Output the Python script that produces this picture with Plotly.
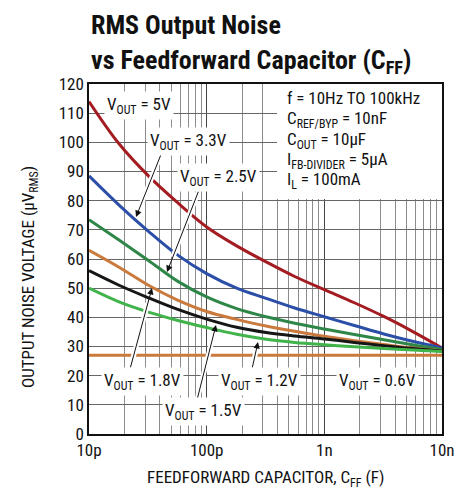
import plotly.graph_objects as go

# Feedforward capacitor values (pF) at which each curve is sampled
cff_pf = [10, 18, 32, 56, 100, 180, 320, 560, 1000, 1800, 3200, 5600, 10000]

# RMS output noise (µV RMS) per output voltage
noise_5v0 = [114, 99.5, 88.5, 79.5, 71, 64.5, 59, 54, 49.5, 45, 40.3, 35.2, 29.5]
noise_3v3 = [88.5, 78.5, 69.5, 61.5, 55, 50, 46.5, 43.2, 40.2, 37.2, 34.3, 31.8, 29.5]
noise_2v5 = [73.5, 66.5, 59.5, 52.5, 47, 43, 40.2, 38, 36, 34.1, 32.3, 30.6, 29]
noise_1v8 = [63, 57.2, 51, 46, 42, 39.3, 37, 35.2, 33.5, 32, 30.7, 29.5, 28.5]
noise_1v5 = [56, 51, 46.7, 42.8, 39.4, 36.6, 34.8, 33.6, 32.6, 31.4, 30.3, 29.3, 28.5]
noise_1v2 = [50, 45.3, 41.8, 39, 36.5, 34.2, 32.5, 31.4, 30.6, 29.9, 29.3, 28.8, 28.3]
noise_0v6 = [27] * len(cff_pf)

y_ticks = list(range(0, 121, 10))
x_tick_labels = ["10p", "100p", "1n", "10n"]

FONT = "Liberation Sans Narrow, Roboto Condensed, DejaVu Sans Condensed, Roboto, sans-serif"

series = [
    (noise_5v0, "#a31c22"),
    (noise_3v3, "#2b4ea6"),
    (noise_2v5, "#2e8748"),
    (noise_1v8, "#c97a3c"),
    (noise_1v5, "#161616"),
    (noise_1v2, "#40b44b"),
    (noise_0v6, "#c97a3c"),
]

cff_f = [v * 1e-12 for v in cff_pf]

fig = go.Figure()
for vals, col in series:
    fig.add_trace(go.Scatter(
        x=cff_f, y=vals, mode="lines",
        line=dict(color=col, width=3, shape="spline", smoothing=1.0),
        hoverinfo="skip", showlegend=False,
    ))

# plot-area geometry (pixels) used to place labels
W, H = 475, 494
L, R, T, B = 89, 442, 84, 434


def dom(px, py):
    return (px - L) / (R - L), (B - py) / (B - T)


annotations = []
shapes = []


def text_at(text, cx, cy, size=17, xanchor="center", **kw):
    x, y = dom(cx, cy)
    d = dict(
        text=text, x=x, y=y, xref="paper", yref="paper",
        showarrow=False, xanchor=xanchor, yanchor="middle",
        font=dict(family=FONT, size=size, color="#111"),
    )
    d.update(kw)
    annotations.append(d)


def label(text, cx, cy):
    text_at(text, cx, cy, bgcolor="white", borderpad=2)


def arrow(tail, tip):
    tx, ty = dom(*tail)
    hx, hy = dom(*tip)
    # white halo so the arrow cuts cleanly across curves and grid
    mx = tx + (hx - tx) * 0.82
    my = ty + (hy - ty) * 0.82
    shapes.append(dict(
        type="line", xref="paper", yref="paper",
        x0=tx, y0=ty, x1=mx, y1=my,
        line=dict(color="white", width=5), layer="above",
    ))
    annotations.append(dict(
        text="", x=hx, y=hy, ax=tx, ay=ty,
        xref="x domain", yref="y domain", axref="x domain", ayref="y domain",
        showarrow=True, arrowhead=2, arrowsize=1.3, arrowwidth=1,
        arrowcolor="#111", standoff=0, startstandoff=0,
    ))


VOUT = "V<sub>OUT</sub> = "

arrow((162, 152), (136, 217))
arrow((199, 190), (167, 272))
arrow((130, 369), (152, 288))
arrow((197, 400), (216, 325))
arrow((252, 369), (258, 342))

label(VOUT + "5V", 139, 105)
label(VOUT + "3.3V", 188, 141)
label(VOUT + "2.5V", 218, 177)
label(VOUT + "1.8V", 142, 381)
label(VOUT + "1.5V", 203, 411)
label(VOUT + "1.2V", 259, 381)
label(VOUT + "0.6V", 377, 381)

# conditions box in the upper right
bx0, by0 = dom(277, 199)
shapes.append(dict(type="rect", xref="paper", yref="paper",
                   x0=bx0, y0=by0, x1=1, y1=1, fillcolor="white",
                   line=dict(width=0), layer="above"))
cond_lines = [
    ("f = 10Hz TO 100kHz", 98),
    ("C<sub>REF/BYP</sub> = 10nF", 119),
    ("C<sub>OUT</sub> = 10µF", 140),
    ("I<sub>FB-DIVIDER</sub> = 5µA", 160),
    ("I<sub>L</sub> = 100mA", 180),
]
for txt, cy in cond_lines:
    text_at(txt, 285, cy, xanchor="left")

# axis titles
text_at("FEEDFORWARD CAPACITOR, C<sub>FF</sub> (F)", 265, 478)
text_at("OUTPUT NOISE VOLTAGE (µV<sub>RMS</sub>)", 29, 277, textangle=-90)

# chart title
text_at("<b>RMS Output Noise</b>", 89, 25, size=26, xanchor="left")
text_at("<b>vs Feedforward Capacitor (C<sub>FF</sub>)</b>", 89, 61, size=26, xanchor="left")

minor_vals = [m * 10 ** e for e in (-11, -10, -9) for m in range(2, 10)]

fig.update_layout(
    width=W, height=H,
    margin=dict(l=L, r=W - R, t=T, b=H - B),
    paper_bgcolor="white", plot_bgcolor="white",
    annotations=annotations, shapes=shapes,
    font=dict(family=FONT, size=17, color="#111"),
)
fig.update_xaxes(
    type="log", range=[-11, -8],
    tickvals=[1e-11, 1e-10, 1e-9, 1e-8], ticktext=x_tick_labels,
    showgrid=True, gridcolor="#444", gridwidth=1,
    minor=dict(tickvals=minor_vals, showgrid=True, gridcolor="#8c8c8c", gridwidth=1, ticks=""),
    showline=True, linecolor="#111", linewidth=1.5, mirror=True,
    ticks="", tickfont=dict(family=FONT, size=17, color="#111"),
    zeroline=False,
)
fig.update_yaxes(
    range=[0, 120], tickvals=y_ticks,
    showgrid=True, gridcolor="#666", gridwidth=1,
    showline=True, linecolor="#111", linewidth=1.5, mirror=True,
    ticks="", tickfont=dict(family=FONT, size=17, color="#111"),
    zeroline=False,
)

fig.write_html("out.html")
